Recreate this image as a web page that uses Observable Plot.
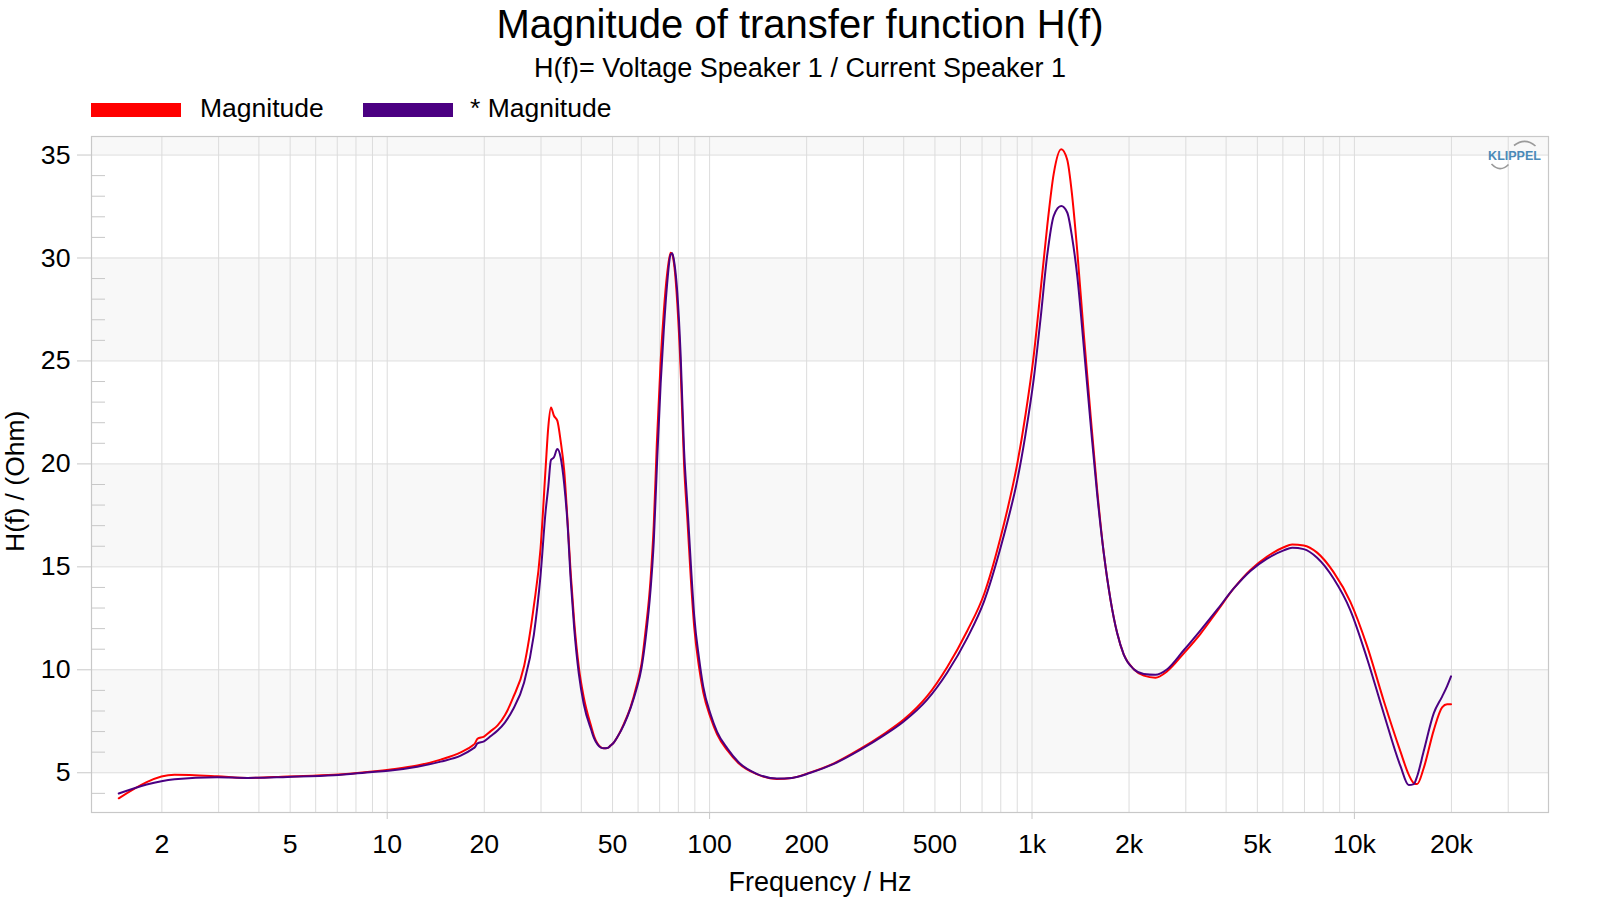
<!DOCTYPE html>
<html>
<head>
<meta charset="utf-8">
<script src="https://cdn.jsdelivr.net/npm/d3@7"></script>
<script src="https://cdn.jsdelivr.net/npm/@observablehq/plot@0.6"></script>
<style>
  html, body { margin: 0; padding: 0; background: #fff; }
  #wrap { position: relative; width: 1600px; height: 900px; font-family: "Liberation Sans", Arial, sans-serif; color: #000; overflow: hidden; }
  .abs { position: absolute; white-space: nowrap; line-height: 1; }
  #chart { position: absolute; left: 0; top: 125px; }
</style>
</head>
<body>
<div id="wrap">
  <div class="abs" id="title" style="left:0;width:1600px;text-align:center;top:4.4px;font-size:40px;"></div>
  <div class="abs" id="subtitle" style="left:0;width:1600px;text-align:center;top:55.4px;font-size:27px;"></div>
  <div id="legend"></div>
  <div id="chart"></div>
  <div class="abs" id="ytitle" style="left:-185.5px;top:467.75px;width:400px;text-align:center;font-size:26.5px;transform:rotate(-90deg);transform-origin:50% 50%;"></div>
  <svg id="logoArcs" width="1600" height="900" style="position:absolute;left:0;top:0;pointer-events:none">
    <path d="M1514,145.5 Q1525,137 1535.5,146" fill="none" stroke="#9a9a9a" stroke-width="1.6"/>
    <path d="M1491.5,164 Q1500,173 1508.5,164.5" fill="none" stroke="#9a9a9a" stroke-width="1.6"/>
  </svg>
</div>
<script>
// ---------- texts ----------
const titleText = "Magnitude of transfer function H(f)";
const subtitleText = "H(f)= Voltage Speaker 1 / Current Speaker 1";
const seriesNames = ["Magnitude", "* Magnitude"];
const seriesColors = ["#ff0000", "#4b0082"];
const xAxisTitle = "Frequency / Hz";
const yAxisTitle = "H(f) / (Ohm)";
const logoText = "KLIPPEL";

// ---------- axes ----------
const xDomain = [1.21, 40000];
const yDomain = [3.07, 35.9];
const xTickValues = [2, 5, 10, 20, 50, 100, 200, 500, 1000, 2000, 5000, 10000, 20000];
const xTickLabels = ["2", "5", "10", "20", "50", "100", "200", "500", "1k", "2k", "5k", "10k", "20k"];
const xDecadeTicks = [10, 100, 1000, 10000];
const xGridValues = [2,3,4,5,6,7,8,9,10,20,30,40,50,60,70,80,90,100,200,300,400,500,600,700,800,900,
  1000,2000,3000,4000,5000,6000,7000,8000,9000,10000,20000,30000];
const yTickValues = [5, 10, 15, 20, 25, 30, 35];
const yMinorTicks = [4,6,7,8,9,11,12,13,14,16,17,18,19,21,22,23,24,26,27,28,29,31,32,33,34];
const bandStarts = [5, 15, 25, 35];

// ---------- data ----------
const freq = [1.47, 2.19, 2.97, 3.69, 4.90, 6.84, 9.0, 10.25, 12.4, 14.65, 16.9, 18.4, 18.7, 19.05, 19.96,
  20.9, 22.0, 23.2, 24.5, 26.6, 28.5, 29.9, 31.0, 31.6, 32.2, 32.9, 33.7, 34.5, 35.4, 36.2, 37.1, 38.0,
  39.3, 40.7, 43.0, 43.8, 44.9, 46.0, 47.0, 48.2, 49.3, 50.5, 51.7, 54.3, 56.9, 59.3, 61.5, 63.3, 65.6, 67.1, 68.6, 70.5, 72.1,
  73.8, 75.7, 76.6, 77.8, 79.4, 81.3, 83.3, 85.4, 87.5, 89.6, 92.7, 95.6, 100.7, 105.5, 113.6, 123, 140,
  161.6, 180, 205.6, 243, 294, 346, 400, 473, 546, 630, 710, 798, 838, 900, 955, 1013, 1063, 1114, 1168,
  1232, 1286, 1332, 1381, 1448, 1519, 1593, 1670, 1752, 1838, 1926, 2069, 2222, 2415, 2626, 2956, 3331,
  3753, 4224, 4759, 5362, 6036, 6411, 6965, 7662, 8628, 9718, 10950, 12330, 13890, 14740, 15280, 15650,
  16400, 17620, 18710, 19390, 19940];
const magnitude = [3.76, 4.90, 4.83, 4.75, 4.82, 4.90, 5.06, 5.16, 5.35, 5.64, 5.99, 6.32, 6.42, 6.65, 6.76,
  7.01, 7.30, 7.80, 8.60, 10.2, 13.1, 15.9, 19.8, 21.8, 22.74, 22.34, 22.10, 21.13, 19.67, 17.40, 14.65, 12.39,
  10.12, 8.67, 7.21, 6.78, 6.42, 6.24, 6.19, 6.20, 6.32, 6.48, 6.72, 7.40, 8.20, 9.20, 10.30, 11.9, 14.4, 17.0, 21.0, 25.0, 27.4,
  29.2, 30.26, 30.17, 29.55, 27.79, 24.61, 20.02, 17.20, 14.37, 12.08, 10.14, 8.90, 7.67, 6.87, 6.08, 5.46, 4.93,
  4.70, 4.75, 5.02, 5.46, 6.17, 6.87, 7.58, 8.72, 10.14, 11.90, 13.67, 16.4, 17.75, 20.0, 22.4, 25.3, 28.4, 31.5, 34.1,
  35.28, 34.77, 33.03, 30.37, 26.28, 22.40, 18.72, 15.65, 13.40, 11.77, 10.74, 10.03, 9.72, 9.62, 9.93, 10.80, 11.75,
  12.85, 13.95, 14.85, 15.50, 15.95, 16.08, 16.04, 15.69, 14.73, 13.30, 11.15, 8.50, 6.04, 4.91, 4.50, 4.45,
  5.22, 7.06, 8.18, 8.33, 8.33];
const magnitudeStar = [3.99, 4.69, 4.78, 4.75, 4.80, 4.88, 5.04, 5.11, 5.29, 5.54, 5.83, 6.16, 6.24, 6.43, 6.53,
  6.77, 7.05, 7.45, 8.05, 9.40, 11.7, 14.6, 17.7, 18.9, 20.19, 20.32, 20.72, 20.32, 19.02, 17.24, 14.33, 12.06,
  9.80, 8.34, 7.05, 6.68, 6.38, 6.22, 6.19, 6.20, 6.32, 6.48, 6.72, 7.35, 8.15, 9.05, 10.10, 11.5, 13.9, 16.2, 19.8, 23.9, 26.5,
  28.7, 30.17, 30.23, 29.73, 28.32, 25.32, 20.73, 17.90, 15.08, 12.61, 10.58, 9.17, 7.84, 6.99, 6.17, 5.51, 4.95,
  4.72, 4.75, 5.00, 5.43, 6.12, 6.80, 7.49, 8.55, 9.87, 11.55, 13.32, 15.9, 17.15, 19.2, 21.45, 24.15, 27.05, 30.1, 32.05,
  32.52, 32.21, 30.99, 29.15, 25.67, 21.99, 18.51, 15.65, 13.40, 11.77, 10.74, 10.03, 9.80, 9.76, 10.03, 10.95, 11.92,
  12.92, 13.95, 14.80, 15.40, 15.80, 15.93, 15.86, 15.44, 14.42, 12.89, 10.54, 7.88, 5.33, 4.40, 4.45, 4.82,
  6.04, 7.88, 8.70, 9.21, 9.68];

// ---------- header & legend ----------
document.getElementById("title").textContent = titleText;
document.getElementById("subtitle").textContent = subtitleText;
document.getElementById("ytitle").textContent = yAxisTitle;
const legend = document.getElementById("legend");
const legendSwatchX = [91, 363];
const legendTextX = [200, 470];
seriesNames.forEach((name, i) => {
  const sw = document.createElement("div");
  sw.style.cssText = `position:absolute;left:${legendSwatchX[i]}px;top:103px;width:90px;height:14px;background:${seriesColors[i]};`;
  legend.appendChild(sw);
  const t = document.createElement("div");
  t.className = "abs";
  t.style.cssText = `left:${legendTextX[i]}px;top:94.9px;font-size:26.5px;`;
  t.textContent = name;
  legend.appendChild(t);
});

// ---------- tables ----------
const rows = [];
freq.forEach((f, i) => rows.push({f, v: magnitude[i], s: seriesNames[0]}));
freq.forEach((f, i) => rows.push({f, v: magnitudeStar[i], s: seriesNames[1]}));
const bands = bandStarts.map(b => ({y1: b, y2: Math.min(b + 5, yDomain[1])}));
const xTicks = xTickValues.map((v, i) => ({v, label: xTickLabels[i]}));
const gridColor = "#dcdcdc";
const axisColor = "#c8c8c8";

const chart = Plot.plot({
  width: 1600,
  height: 775,
  marginLeft: 91,
  marginRight: 52,
  marginTop: 11,
  marginBottom: 88,
  x: {type: "log", domain: xDomain},
  y: {domain: yDomain},
  color: {domain: seriesNames, range: seriesColors},
  style: {fontFamily: "'Liberation Sans', Arial, sans-serif", fontSize: "26.7px", color: "#000", background: "#fff", overflow: "visible"},
  marks: [
    Plot.rect(bands, {x1: xDomain[0], x2: xDomain[1], y1: "y1", y2: "y2", fill: "#f8f8f8"}),
    Plot.ruleX(xGridValues, {stroke: gridColor, strokeWidth: 1}),
    Plot.ruleY(yTickValues, {stroke: gridColor, strokeWidth: 1}),
    Plot.ruleY(yMinorTicks, {x1: xDomain[0], x2: xDomain[0], insetRight: -14, stroke: axisColor, strokeWidth: 1}),
    Plot.axisY({ticks: yTickValues, tickSize: 14, tickPadding: 7, tickFormat: d => String(d), label: null, stroke: axisColor, fill: "#000"}),
    Plot.axisX({ticks: xDecadeTicks, tickSize: 7, tickFormat: () => "", label: null, stroke: axisColor}),
    Plot.text(xTicks, {x: "v", text: "label", frameAnchor: "bottom", dy: 22, lineAnchor: "top", textAnchor: "middle", fontSize: 26.7, fill: "#000"}),
    Plot.frame({stroke: axisColor, strokeWidth: 1.2}),
    Plot.line(rows, {x: "f", y: "v", z: "s", stroke: "s", strokeWidth: 2, curve: "monotone-x"}),
    Plot.text([xAxisTitle], {frameAnchor: "bottom", dy: 70, text: d => d, lineAnchor: "middle", fontSize: 27, fill: "#000"}),
    Plot.text([logoText], {frameAnchor: "top-right", dx: -34, dy: 19, text: d => d, lineAnchor: "middle", textAnchor: "middle", fontSize: 12.5, fontWeight: "bold", fill: "#4a8ab8"})
  ]
});
document.getElementById("chart").appendChild(chart);
</script>
</body>
</html>
